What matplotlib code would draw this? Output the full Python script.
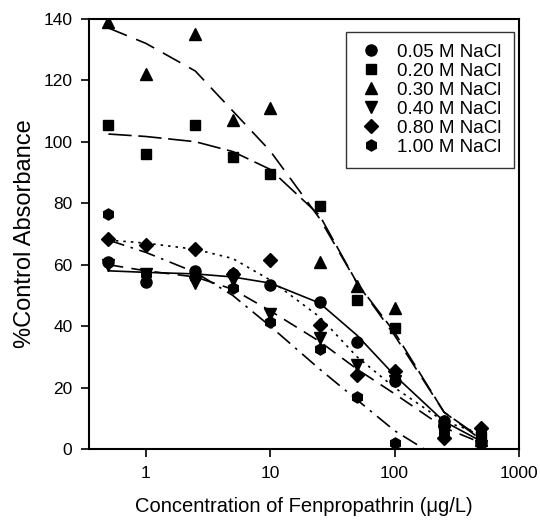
import numpy as np
import matplotlib.pyplot as plt

plt.rcParams['font.family'] = ['Liberation Sans', 'DejaVu Sans']

conc = [0.5, 1, 2.5, 5, 10, 25, 50, 100, 250, 500]

labels = ['0.05 M NaCl', '0.20 M NaCl', '0.30 M NaCl',
          '0.40 M NaCl', '0.80 M NaCl', '1.00 M NaCl']

# measured points
pts_005 = [61, 54.5, 58, 57, 53.5, 48, 35, 22, 9, 2]
pts_020 = [105.5, 96, 105.5, 95, 89.5, 79, 48.5, 39.5, 8, 4]
pts_030 = [139, 122, 135, 107, 111, 61, 53, 46, 9, 3]
pts_040 = [60, 57, 54, 55, 44, 36, 27.5, 22, 6, 1]
pts_080 = [68.5, 66.5, 65, 57, 61.5, 40.5, 24, 25.5, 3.5, 7]
pts_100 = [76.5, 57, 56, 52.5, 41.5, 32.5, 17, 2, 5.5, 5]

# fitted curves read at the same concentrations
fit_005 = [58, 57.5, 57, 56, 54, 47.5, 37, 24, 9, 2.5]
fit_020 = [102.5, 101.7, 100, 96.8, 91, 76, 54, 38, 12, 3.5]
fit_030 = [137, 132, 123, 110, 97, 75, 54, 37, 12, 3]
fit_040 = [60, 58, 56, 52, 45, 35, 26, 18, 7, 2]
fit_080 = [68, 67, 65, 62, 55, 43, 30, 20, 9, 5]
fit_100 = [68, 64, 57.5, 50, 40, 26, 16, 6, -4, -8]

points = [pts_005, pts_020, pts_030, pts_040, pts_080, pts_100]
fits = [fit_005, fit_020, fit_030, fit_040, fit_080, fit_100]
markers = ['o', 's', '^', 'v', 'D', 'h']
msizes = [8, 7, 8, 8, 7, 8]
styles = ['-', (0, (14, 4)), (0, (12, 6)), (0, (9, 5)), (0, (1.5, 3)),
          (0, (10, 4, 1.5, 4))]

fig = plt.figure(figsize=(5.40, 5.21), dpi=100)
ax = fig.add_axes([0.165, 0.138, 0.796, 0.826])

for p, f, m, ms, ls, lab in zip(points, fits, markers, msizes, styles, labels):
    ax.plot(conc, f, color='black', linestyle=ls, linewidth=1.2)
    ax.plot(conc, p, linestyle='none', marker=m, markersize=ms,
            color='black', label=lab)

ax.set_xscale('log')
ax.set_xlim(0.35, 1000)
ax.set_ylim(0, 140)
ax.set_yticks(np.arange(0, 141, 20))
ax.set_xticks([1, 10, 100, 1000])
ax.set_xticklabels(['1', '10', '100', '1000'])
ax.minorticks_off()
ax.tick_params(axis='both', direction='out', length=6, width=1.2,
               labelsize=12.5, pad=6)
for s in ax.spines.values():
    s.set_linewidth(1.5)

ax.set_xlabel('Concentration of Fenpropathrin (\u03bcg/L)', fontsize=14.5,
              labelpad=12)
ax.set_ylabel('%Control Absorbance', fontsize=17, labelpad=5)

leg = ax.legend(loc='upper right', bbox_to_anchor=(0.988, 0.97),
                fontsize=13.5, frameon=True, fancybox=False,
                edgecolor='black', handletextpad=0.7, labelspacing=0.1,
                borderpad=0.65, handlelength=1.4, borderaxespad=0)
leg.get_frame().set_linewidth(1.0)

fig.savefig('out.png', dpi=100)
